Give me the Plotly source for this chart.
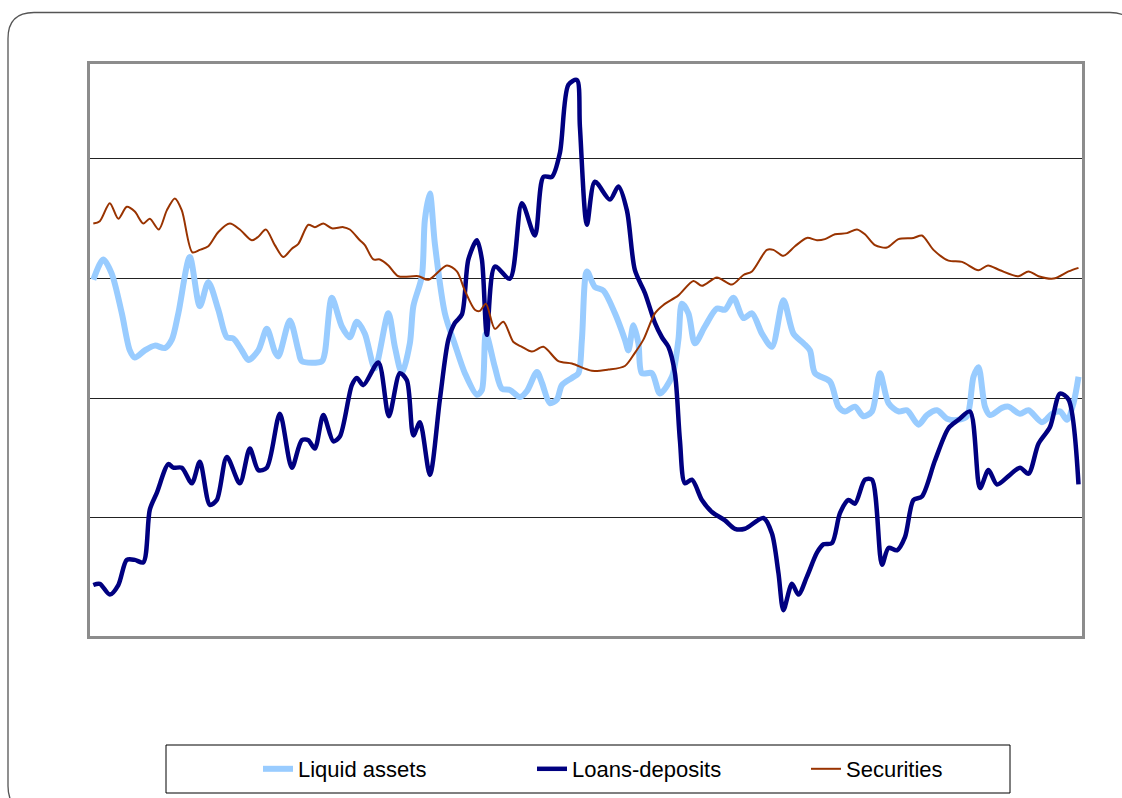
import plotly.graph_objects as go

# Series values (x = period index, y = level)
sec_x = [0, 1.3, 3.3, 5.0, 6.7, 8.3, 10.0, 11.3, 13.1, 14.7, 16.3, 17.7, 19.8, 21.3, 23.0, 25.0,
         27.3, 29.3, 31.7, 33.0, 34.5, 36.3, 38.0, 39.7, 41.0, 43.0, 44.3, 46.0, 47.7, 50.0,
         51.3, 53.3, 54.3, 56.0, 57.3, 59.0, 61.0, 65.0, 67.0, 70.7, 72.7, 74.3, 76.3,
         77.3, 78.5, 80.3, 82.0, 84.0, 85.7, 87.7, 90.0, 93.0, 95.7, 99.7, 103.0, 106.3, 108.3,
         110.0, 112.3, 114.0, 117.0, 120.0, 121.7, 124.7, 127.7, 130.0, 131.7, 134.7, 136.0,
         138.0, 140.3, 142.7, 144.7, 146.3, 148.3, 150.7, 152.7, 154.3, 156.3, 158.7, 161.0,
         164.0, 165.7, 168.0, 171.0, 173.7, 177.0, 178.9, 181.3, 185.0, 187.0, 189.0, 192.0,
         195.0, 197.0]
sec_y = [3.46, 3.48, 3.63, 3.50, 3.60, 3.56, 3.46, 3.50, 3.41, 3.57, 3.67, 3.57, 3.22, 3.24, 3.27, 3.39,
         3.46, 3.41, 3.32, 3.35, 3.41, 3.28, 3.18, 3.25, 3.29, 3.45, 3.43, 3.46, 3.42, 3.43,
         3.41, 3.32, 3.28, 3.16, 3.16, 3.11, 3.02, 3.02, 2.99, 3.11, 3.06, 2.90, 2.74,
         2.73, 2.79, 2.58, 2.64, 2.47, 2.43, 2.39, 2.43, 2.31, 2.29, 2.23, 2.24, 2.27, 2.38,
         2.49, 2.71, 2.78, 2.86, 2.98, 2.94, 3.01, 2.95, 3.03, 3.06, 3.24, 3.24,
         3.19, 3.27, 3.34, 3.32, 3.33, 3.37, 3.38, 3.41, 3.37, 3.28, 3.26, 3.33,
         3.34, 3.36, 3.24, 3.15, 3.14, 3.07, 3.11, 3.07, 3.02, 3.06, 3.02, 3.00,
         3.06, 3.09]

liq_x = [0, 2.0, 3.7, 5.7, 7.3, 8.3, 10.3, 12.3, 14.3, 15.7, 17.0, 19.3, 21.3, 23.0, 25.0, 26.7,
         28.0, 29.7, 31.0, 33.0, 34.7, 36.3, 37.0, 39.3, 41.0, 41.7, 45.7, 46.3, 47.7, 49.7,
         51.3, 52.7, 54.3, 56.3, 59.0, 60.3, 61.7, 63.3, 64.0, 65.7, 66.3, 67.3, 68.3, 70.3,
         72.3, 74.3, 76.7, 77.7, 78.5, 80.3, 81.7, 83.3, 85.3, 86.7, 88.7, 89.7, 91.3, 92.7,
         93.7, 95.7, 97.0, 97.7, 98.7, 100.3, 102.0, 104.3, 106.3, 107.0, 108.0, 109.0, 109.7,
         111.7, 113.3, 115.7, 117.0, 117.7, 119.0, 120.3, 122.3, 124.7, 126.3, 128.0, 130.0,
         131.7, 133.7, 135.7, 138.0, 140.0, 142.0, 143.3, 144.3, 147.3, 149.0, 150.3, 152.3,
         154.0, 155.7, 157.3, 159.0, 161.0, 162.7, 165.0, 166.7, 168.7, 170.7, 173.0, 174.7,
         176.0, 177.0, 178.3, 179.3, 181.7, 183.0, 185.3, 187.0, 189.7, 191.7, 193.3, 194.7,
         196.0, 197.0]
liq_y = [2.99, 3.16, 3.04, 2.71, 2.40, 2.34, 2.40, 2.44, 2.42, 2.49, 2.71, 3.18, 2.77, 2.97, 2.74, 2.51,
         2.50, 2.40, 2.32, 2.40, 2.58, 2.39, 2.35, 2.65, 2.40, 2.31, 2.31, 2.38, 2.84, 2.60,
         2.51, 2.64, 2.54, 2.25, 2.71, 2.43, 2.21, 2.46, 2.77, 3.02, 3.49, 3.71, 3.29, 2.71,
         2.45, 2.21, 2.03, 2.07, 2.54, 2.26, 2.08, 2.07, 2.01, 2.06, 2.22, 2.13, 1.96, 1.99,
         2.11, 2.17, 2.21, 2.49, 3.06, 2.93, 2.90, 2.71, 2.49, 2.40, 2.61, 2.46, 2.21,
         2.21, 2.04, 2.18, 2.49, 2.79, 2.71, 2.46, 2.60, 2.75, 2.74, 2.84, 2.67,
         2.71, 2.54, 2.43, 2.82, 2.54, 2.46, 2.40, 2.21, 2.14, 1.93, 1.89, 1.93,
         1.85, 1.89, 2.21, 1.96, 1.89, 1.90, 1.78, 1.86, 1.90, 1.83, 1.82, 1.85,
         2.18, 2.26, 1.93, 1.86, 1.92, 1.93, 1.87, 1.90, 1.80, 1.87, 1.89, 1.82,
         1.96, 2.18]

loan_x = [0, 1.3, 3.3, 5.0, 6.7, 8.3, 10.0, 11.3, 12.7, 15.0, 16.0, 17.7, 19.7, 21.3, 23.3, 24.7,
          26.7, 29.3, 31.3, 33.0, 34.7, 37.3, 39.7, 41.7, 43.0, 44.3, 46.0, 48.0, 49.3, 51.7,
          52.7, 54.0, 57.0, 59.1, 61.3, 62.7, 64.0, 65.3, 67.3, 69.3, 71.0, 72.3, 73.7, 75.0,
          76.7, 77.7, 78.7, 80.3, 83.3, 85.7, 88.3, 90.0, 91.7, 93.3, 95.0, 96.7, 97.3, 98.7,
          100.3, 103.3, 105.0, 106.7, 108.3, 110.3, 112.3, 113.7, 115.0, 116.3, 117.3, 118.3,
          119.7, 121.7, 123.7, 126.3, 128.3, 130.3, 134.0, 135.7, 137.0, 138.0, 139.7, 141.0,
          142.7, 144.7, 146.0, 147.7, 149.3, 151.0, 152.3, 154.3, 155.7, 157.7, 159.0, 160.7,
          162.3, 164.0, 165.7, 168.3, 171.0, 173.0, 175.3, 177.3, 179.0, 180.7, 183.0, 185.3,
          187.0, 189.0, 191.3, 193.3, 195.0, 197.0]
loan_y = [0.44, 0.45, 0.36, 0.44, 0.65, 0.65, 0.63, 1.07, 1.21, 1.45, 1.42, 1.42, 1.29, 1.47, 1.11, 1.15,
          1.51, 1.29, 1.58, 1.40, 1.42, 1.87, 1.42, 1.65, 1.65, 1.58, 1.86, 1.64, 1.68, 2.11,
          2.17, 2.11, 2.30, 1.85, 2.21, 2.15, 1.69, 1.80, 1.36, 1.99, 2.49, 2.63, 2.70, 3.16,
          3.32, 3.16, 2.53, 3.10, 3.00, 3.63, 3.36, 3.85, 3.85, 4.05, 4.62, 4.66, 4.27, 3.45,
          3.81, 3.66, 3.77, 3.57, 3.07, 2.88, 2.63, 2.51, 2.43, 2.21, 1.65, 1.29,
          1.32, 1.15, 1.05, 0.98, 0.91, 0.91, 1.00, 0.87, 0.54, 0.23, 0.45, 0.36,
          0.51, 0.71, 0.78, 0.79, 1.04, 1.15, 1.12, 1.32, 1.32, 0.61, 0.75, 0.73,
          0.84, 1.15, 1.18, 1.48, 1.75, 1.82, 1.89, 1.25, 1.40, 1.28, 1.35, 1.42,
          1.37, 1.62, 1.76, 2.04, 1.99, 1.28]

# plot area in pixels, used to place the outer frame and legend box
L, R, T, B = 90, 1082, 64, 636
W, H = R - L, B - T


def fx(px):
    return (px - L) / W


def fy(py):
    return (B - py) / H


fig = go.Figure()

fig.add_trace(go.Scatter(x=liq_x, y=liq_y, name="Liquid assets", mode="lines",
                         line=dict(color="#99CCFF", width=6, shape="spline", smoothing=0.8)))
fig.add_trace(go.Scatter(x=loan_x, y=loan_y, name="Loans-deposits", mode="lines",
                         line=dict(color="#000080", width=4.5, shape="spline", smoothing=0.8)))
fig.add_trace(go.Scatter(x=sec_x, y=sec_y, name="Securities", mode="lines",
                         line=dict(color="#993300", width=2, shape="spline", smoothing=0.8)))

# rounded outer frame (partly off the page, like the source)
x0, y0, x1, y1, r = 8, 12.5, 1136, 812, 26
path = (f"M {fx(x0 + r)},{fy(y0)} L {fx(x1 - r)},{fy(y0)} Q {fx(x1)},{fy(y0)} {fx(x1)},{fy(y0 + r)} "
        f"L {fx(x1)},{fy(y1 - r)} Q {fx(x1)},{fy(y1)} {fx(x1 - r)},{fy(y1)} "
        f"L {fx(x0 + r)},{fy(y1)} Q {fx(x0)},{fy(y1)} {fx(x0)},{fy(y1 - r)} "
        f"L {fx(x0)},{fy(y0 + r)} Q {fx(x0)},{fy(y0)} {fx(x0 + r)},{fy(y0)} Z")

fig.update_layout(
    width=1122, height=798,
    margin=dict(l=L, r=1122 - R, t=T, b=798 - B, autoexpand=False),
    paper_bgcolor="white", plot_bgcolor="white",
    font=dict(family="Liberation Sans, Arial", size=22, color="black"),
    showlegend=True,
    legend=dict(orientation="h", x=fx(258), xanchor="left", y=fy(769), yanchor="middle",
                entrywidth=229, entrywidthmode="pixels", font=dict(size=22),
                bgcolor="rgba(0,0,0,0)", borderwidth=0),
    shapes=[
        dict(type="path", xref="paper", yref="paper", path=path,
             line=dict(color="#555555", width=1.3)),
        dict(type="rect", xref="paper", yref="paper",
             x0=fx(166), x1=fx(1010), y0=fy(793), y1=fy(745),
             line=dict(color="black", width=1)),
    ],
)

fig.update_xaxes(range=[-0.66, 197.7], showgrid=False, zeroline=False, showticklabels=False,
                 ticks="", showline=True, mirror=True, linecolor="#8c8c8c", linewidth=3)
fig.update_yaxes(range=[0.014, 4.793], tick0=0, dtick=1, showgrid=True, gridcolor="#222222",
                 gridwidth=1, zeroline=False, showticklabels=False, ticks="",
                 showline=True, mirror=True, linecolor="#8c8c8c", linewidth=3)

# page body margin would shift the fixed-size figure
fig.write_html("out.html", config={"displayModeBar": False},
               post_script="document.body.style.margin='0';")
